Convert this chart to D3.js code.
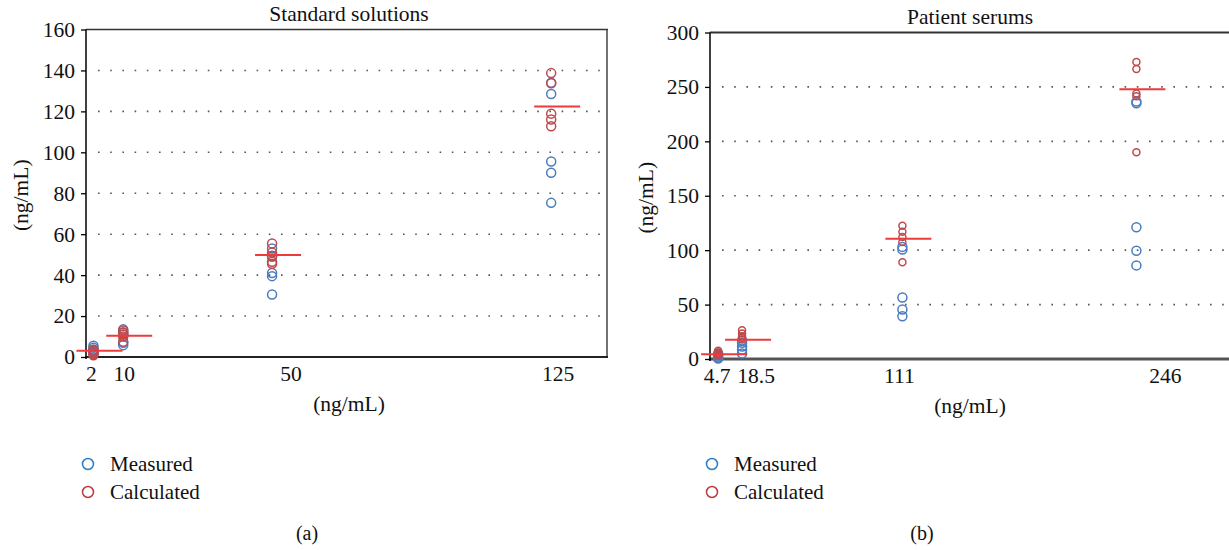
<!DOCTYPE html>
<html><head><meta charset="utf-8">
<script src="https://cdn.jsdelivr.net/npm/d3@7"></script>
<style>body{margin:0;background:#fff}svg{display:block}text{font-family:"Liberation Serif","DejaVu Serif",serif;fill:#111}</style>
</head><body><svg id="c" width="1229" height="550"></svg>
<script>
// ---- data ----
const categoriesA = [2, 10, 50, 125];
const measuredA = [[5.5,4.5,3.5,2.5,2],[13.5,12,11,7,5.8],[53,49,41,39.5,30.5],[134,128.5,95.5,90,75.3]];
const calculatedA = [[3.5,3,2.5,1.5,0.8],[13,12,11,10,7.5],[55.5,51,49.5,46.5,45.5],[138.7,133.7,118.9,116,112.7]];
const meanA = [3.1, 10.4, 49.8, 122.4];
const yTicksA = [0,20,40,60,80,100,120,140,160];
const xLabelsA = ["2","10","50","125"];

const categoriesB = [4.7, 18.5, 111, 246];
const measuredB = [[5,3.5,2,1,0.5],[17,15,11.5,8.5,5],[103,100.5,56.5,45.5,39.3],[236.5,235,121,99.5,86]];
const calculatedB = [[7.5,6,5,4,3],[26.5,23.5,21,19.5,18],[122.5,117,112,107.5,89],[273,266.5,244,241.5,190]];
const meanB = [4.3, 17.8, 110.4, 247.8];
const yTicksB = [0,50,100,150,200,250,300];
const xLabelsB = ["4.7","18.5","111","246"];

const seriesNames = ["Measured","Calculated"];
const titles = ["Standard solutions","Patient serums"];
const panelLabels = ["(a)","(b)"];
const unit = "(ng/mL)";

// ---- drawing ----
const svg = d3.select("#c");
const BLUE = "#4a7cc0", RED = "#c0494a", MEAN = "#ec3b3b";
const FS = "21.5px";

function panel(o){
  const g = svg.append("g");
  const x = d3.scaleLinear().domain(o.xDomain).range([o.left, o.right]);
  const y = d3.scaleLinear().domain(o.yDomain).range([o.bottom, o.top]);
  // grid
  g.selectAll(".grid").data(o.yTicks.filter(t => t > o.yDomain[0] && t < o.yDomain[1])).join("line")
    .attr("x1", o.left + 12).attr("x2", o.right).attr("y1", d => y(d)).attr("y2", d => y(d))
    .attr("stroke", "#555").attr("stroke-width", 1.6).attr("stroke-dasharray", "1.6,10.6");
  // frame
  g.append("line").attr("x1", o.left).attr("x2", o.right + 1).attr("y1", o.top).attr("y2", o.top)
    .attr("stroke", "#333").attr("stroke-width", o.topW);
  if (o.rightBorder) g.append("line").attr("x1", o.right).attr("x2", o.right).attr("y1", o.top).attr("y2", o.bottom)
    .attr("stroke", "#444").attr("stroke-width", 1.5);
  g.append("line").attr("x1", o.left - 1).attr("x2", o.right + 1).attr("y1", o.bottom).attr("y2", o.bottom)
    .attr("stroke", o.bottomColor).attr("stroke-width", o.bottomW);
  // y axis
  const ya = g.append("g").attr("transform", `translate(${o.left},0)`)
    .call(d3.axisLeft(y).tickValues(o.yTicks).tickSize(5).tickPadding(6).tickFormat(d3.format("d")));
  ya.select(".domain").attr("stroke", "#000").attr("stroke-width", 1.5).attr("d", `M0,${o.top}V${o.bottom + 2}`);
  ya.selectAll(".tick line").attr("stroke", "#000").attr("stroke-width", 1.3);
  ya.selectAll(".tick text").style("font-size", FS).style("font-family", '"Liberation Serif",serif').attr("fill", "#111");
  // x labels
  g.selectAll(".xl").data(o.cats).join("text")
    .attr("x", (d, i) => x(d) + o.nudge[i]).attr("y", o.bottom + 24).attr("text-anchor", "middle")
    .style("font-size", FS).text((d, i) => o.xLabels[i]);
  // titles
  g.append("text").attr("x", o.titleX).attr("y", o.top - 9).attr("text-anchor", "middle").style("font-size", "21.5px").text(o.title);
  g.append("text").attr("x", o.titleX).attr("y", o.bottom + 54).attr("text-anchor", "middle").style("font-size", FS).text(unit);
  g.append("text").attr("transform", `translate(${o.yTitleX},${(o.top + o.bottom) / 2 + 2}) rotate(-90)`)
    .attr("text-anchor", "middle").style("font-size", FS).text(unit);
  // points
  const pts = (arr) => arr.flatMap((vals, i) => vals.map(v => ({c: o.cats[i], v})));
  g.selectAll(".m").data(pts(o.meas)).join("circle")
    .attr("cx", d => x(d.c)).attr("cy", d => y(d.v)).attr("r", o.rM)
    .attr("fill", "none").attr("stroke", BLUE).attr("stroke-width", 1.5);
  g.selectAll(".k").data(pts(o.calc)).join("circle")
    .attr("cx", d => x(d.c)).attr("cy", d => y(d.v)).attr("r", o.rC)
    .attr("fill", "none").attr("stroke", RED).attr("stroke-width", 1.5);
  // mean lines
  g.selectAll(".mean").data(o.means).join("line")
    .attr("x1", (d, i) => x(o.cats[i]) + 6 - 23).attr("x2", (d, i) => x(o.cats[i]) + 6 + 23)
    .attr("y1", d => y(d)).attr("y2", d => y(d)).attr("stroke", MEAN).attr("stroke-width", 2);
  // legend
  const lg = g.append("g");
  seriesNames.forEach((n, i) => {
    lg.append("circle").attr("cx", o.legX).attr("cy", 464 + i * 28).attr("r", 5.5)
      .attr("fill", "none").attr("stroke", i ? "#c0393a" : "#2b7cc6").attr("stroke-width", 1.5);
    lg.append("text").attr("x", o.legX + 22).attr("y", 471 + i * 28).style("font-size", "21px").text(n);
  });
  g.append("text").attr("x", o.panelX).attr("y", 540).attr("text-anchor", "middle").style("font-size", "20px").text(o.panel);
}

panel({left: 86, right: 607, top: 29.5, bottom: 357, xDomain: [0, 140], yDomain: [0, 160],
  yTicks: yTicksA, cats: categoriesA, xLabels: xLabelsA, meas: measuredA, calc: calculatedA, means: meanA,
  nudge: [-2, 1, 19, 7], title: titles[0], titleX: 349, yTitleX: 28, rM: 4.5, rC: 4.5,
  topW: 1.5, rightBorder: true, bottomColor: "#222", bottomW: 2, legX: 88, panelX: 307, panel: panelLabels[0]});

panel({left: 710, right: 1230, top: 32.5, bottom: 359, xDomain: [0, 300], yDomain: [0, 300],
  yTicks: yTicksB, cats: categoriesB, xLabels: xLabelsB, meas: measuredB, calc: calculatedB, means: meanB,
  nudge: [-1, 14, -3, 29], title: titles[1], titleX: 970, yTitleX: 653, rM: 4.5, rC: 3.5,
  topW: 2, rightBorder: false, bottomColor: "#555", bottomW: 3, legX: 712, panelX: 922, panel: panelLabels[1]});
</script></body></html>
